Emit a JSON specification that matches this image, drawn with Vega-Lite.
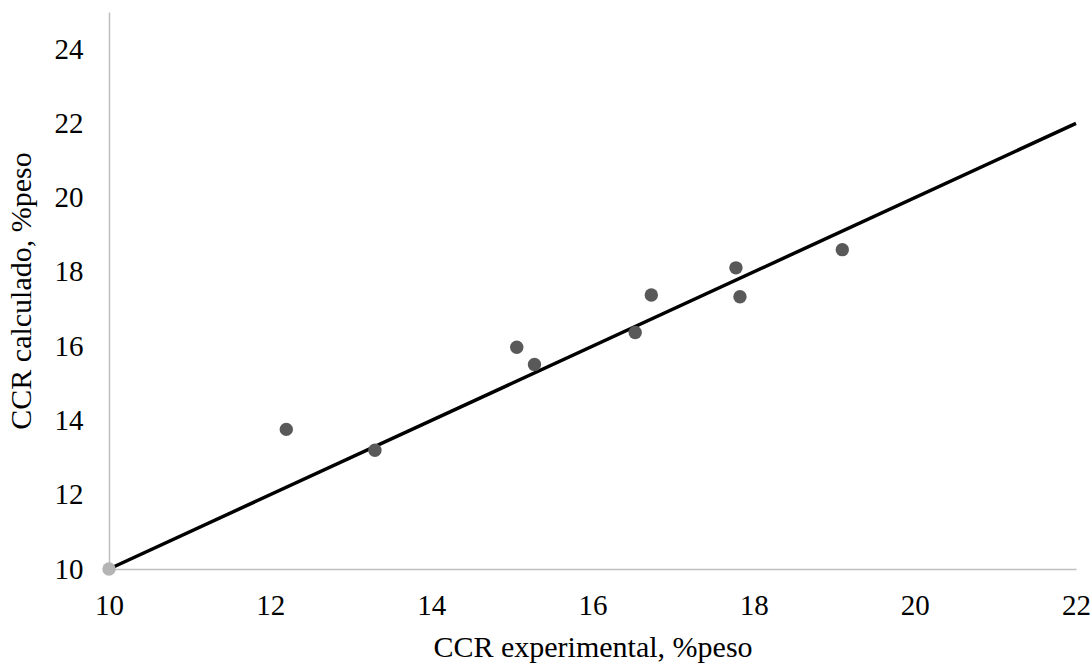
{
  "$schema": "https://vega.github.io/schema/vega-lite/v6.json",
  "width": 967,
  "height": 557,
  "autosize": {"type": "none"},
  "padding": {"left": 109, "top": 12, "right": 16, "bottom": 100},
  "background": "white",
  "config": {
    "view": {"stroke": null},
    "font": "Liberation Serif",
    "axis": {
      "grid": false,
      "ticks": false,
      "labelFlush": false,
      "labelOverlap": false,
      "domainColor": "#bfbfbf",
      "domainWidth": 1.5,
      "labelFont": "Liberation Serif",
      "labelFontSize": 29,
      "labelColor": "#000000",
      "titleFont": "Liberation Serif",
      "titleFontSize": 30,
      "titleFontWeight": "normal",
      "titleColor": "#000000"
    }
  },
  "datasets": {
    "obs": [
      {"exp": 12.2, "calc": 13.76},
      {"exp": 13.3, "calc": 13.2},
      {"exp": 15.06, "calc": 15.97},
      {"exp": 15.28, "calc": 15.51},
      {"exp": 16.53, "calc": 16.37},
      {"exp": 16.73, "calc": 17.38},
      {"exp": 17.78, "calc": 18.11},
      {"exp": 17.83, "calc": 17.33},
      {"exp": 19.1, "calc": 18.6}
    ],
    "diag": [
      {"exp": 10, "calc": 10},
      {"exp": 22, "calc": 22}
    ],
    "origen": [
      {"exp": 10, "calc": 10}
    ]
  },
  "layer": [
    {
      "data": {"name": "diag"},
      "mark": {"type": "line", "color": "#000000", "strokeWidth": 3.5},
      "encoding": {
        "x": {
          "field": "exp", "type": "quantitative",
          "scale": {"domain": [10, 22], "nice": false, "zero": false},
          "axis": {"values": [10, 12, 14, 16, 18, 20, 22], "format": "d", "labelPadding": 22, "title": "CCR experimental, %peso", "titlePadding": 12}
        },
        "y": {
          "field": "calc", "type": "quantitative",
          "scale": {"domain": [10, 25], "nice": false, "zero": false},
          "axis": {"values": [10, 12, 14, 16, 18, 20, 22, 24], "format": "d", "labelPadding": 26, "title": "CCR calculado, %peso", "titlePadding": 18}
        }
      }
    },
    {
      "data": {"name": "obs"},
      "mark": {"type": "circle", "size": 180, "color": "#595959", "opacity": 1},
      "encoding": {
        "x": {"field": "exp", "type": "quantitative"},
        "y": {"field": "calc", "type": "quantitative"}
      }
    },
    {
      "data": {"name": "origen"},
      "mark": {"type": "circle", "size": 180, "color": "#b4b4b4", "opacity": 1},
      "encoding": {
        "x": {"field": "exp", "type": "quantitative"},
        "y": {"field": "calc", "type": "quantitative"}
      }
    }
  ]
}
